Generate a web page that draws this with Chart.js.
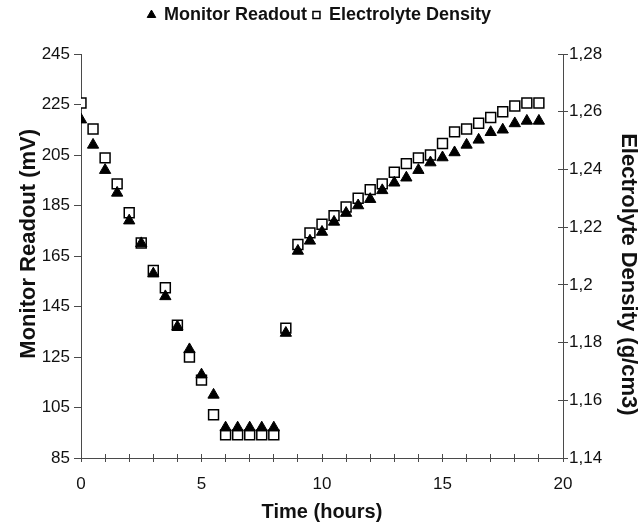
<!DOCTYPE html>
<html>
<head>
<meta charset="utf-8">
<script src="https://cdn.jsdelivr.net/npm/chart.js@4/dist/chart.umd.min.js"></script>
<style>
  html, body { margin: 0; padding: 0; background: #ffffff; }
  #c { display: block; }
</style>
</head>
<body>
<canvas id="c" width="639" height="526"></canvas>
<script>
// ---- Data ----
const hours = [0, 0.5, 1, 1.5, 2, 2.5, 3, 3.5, 4, 4.5, 5, 5.5, 6, 6.5, 7, 7.5, 8, 8.5,
               9, 9.5, 10, 10.5, 11, 11.5, 12, 12.5, 13, 13.5, 14, 14.5, 15, 15.5, 16, 16.5, 17, 17.5, 18, 18.5, 19];
const monitorReadout = [219, 209, 199, 190, 179, 170, 158, 149, 137, 128, 118, 110, 97, 97, 97, 97, 97, 134.5,
                        167, 171, 174.5, 178.5, 182, 185, 187.5, 191, 194, 196, 199, 202, 204, 206, 209, 211, 214, 215, 217.5, 218.5, 218.5];
const electrolyteDensity = [1.263, 1.254, 1.244, 1.235, 1.225, 1.2145, 1.205, 1.199, 1.186, 1.175, 1.167, 1.155, 1.148, 1.148, 1.148, 1.148, 1.148, 1.185,
                            1.214, 1.218, 1.221, 1.224, 1.227, 1.230, 1.233, 1.235, 1.239, 1.242, 1.244, 1.245, 1.249, 1.253, 1.254, 1.256, 1.258, 1.260, 1.262, 1.263, 1.263];

const xTickValues = [0, 1, 2, 3, 4, 5, 6, 7, 8, 9, 10, 11, 12, 13, 14, 15, 16, 17, 18, 19, 20];
const xTickLabels = [0, 5, 10, 15, 20];
const leftTicks = [85, 105, 125, 145, 165, 185, 205, 225, 245];
const rightTicks = [1.14, 1.16, 1.18, 1.20, 1.22, 1.24, 1.26, 1.28];

const seriesNames = ['Monitor Readout', 'Electrolyte Density'];
const axisTitles = { x: 'Time (hours)', y: '    Monitor Readout (mV)', y1: '      Electrolyte Density (g/cm3)' };

// ---- Style ----
const FONT = "'Liberation Sans', Arial, Helvetica, sans-serif";
const AXIS = '#4a4a4a';
const TEXT = '#111111';
const PLOT_TOP = 54;

// inner halves of the crossing tick marks (x axis and right axis)
const innerTicks = {
  id: 'innerTicks',
  beforeDatasetsDraw(chart) {
    const ctx = chart.ctx;
    const xs = chart.scales.x, ys = chart.scales.y1;
    const al = v => Math.round(v + 0.5) - 0.5;
    ctx.save();
    ctx.strokeStyle = AXIS;
    ctx.lineWidth = 1;
    ctx.beginPath();
    xs.ticks.forEach(t => {
      const px = al(xs.getPixelForValue(t.value));
      ctx.moveTo(px, xs.top);
      ctx.lineTo(px, xs.top - 4);
    });
    ys.ticks.forEach(t => {
      const py = al(ys.getPixelForValue(t.value));
      ctx.moveTo(ys.left, py);
      ctx.lineTo(ys.left - 5, py);
    });
    ctx.stroke();
    ctx.restore();
  }
};

// reserve a fixed band for the legend so the plot starts at PLOT_TOP
const legendBand = {
  id: 'legendBand',
  afterInit(chart) {
    const lg = chart.legend;
    if (!lg || lg._bandPatched) return;
    const orig = lg.fit.bind(lg);
    lg.fit = function () { orig(); this.height = PLOT_TOP; };
    lg._bandPatched = true;
  }
};

new Chart(document.getElementById('c'), {
  type: 'scatter',
  data: {
    datasets: [
      {
        label: seriesNames[0],
        data: hours.map((h, i) => ({ x: h, y: monitorReadout[i] })),
        yAxisID: 'y',
        pointStyle: 'triangle',
        pointRadius: 6.5,
        backgroundColor: '#000000',
        borderColor: '#000000',
        borderWidth: 1
      },
      {
        label: seriesNames[1],
        data: hours.map((h, i) => ({ x: h, y: electrolyteDensity[i] })),
        yAxisID: 'y1',
        pointStyle: 'rect',
        pointRadius: 7,
        backgroundColor: '#ffffff',
        borderColor: '#000000',
        borderWidth: 1.5
      }
    ]
  },
  options: {
    responsive: false,
    animation: false,
    devicePixelRatio: 1,
    events: [],
    layout: { padding: { top: 0, left: 0, right: 0, bottom: 0 } },
    plugins: {
      tooltip: { enabled: false },
      legend: {
        display: true,
        position: 'top',
        labels: {
          usePointStyle: true,
          boxWidth: 7,
          boxHeight: 7,
          padding: 6,
          color: TEXT,
          font: { family: FONT, size: 18, weight: 'bold' }
        }
      }
    },
    scales: {
      x: {
        type: 'linear',
        position: 'bottom',
        min: 0,
        max: 20,
        afterBuildTicks: s => { s.ticks = xTickValues.map(v => ({ value: v })); },
        ticks: {
          autoSkip: false,
          maxRotation: 0,
          padding: 12,
          color: TEXT,
          font: { family: FONT, size: 17 },
          callback: v => (xTickLabels.includes(v) ? String(v) : '')
        },
        grid: { display: true, drawOnChartArea: false, drawTicks: true, tickLength: 4, color: AXIS },
        border: { display: true, color: AXIS, width: 1 },
        title: {
          display: true, text: axisTitles.x, color: TEXT,
          font: { family: FONT, size: 20, weight: 'bold', lineHeight: 1.1 },
          padding: { top: 0, bottom: 3 }
        },
        afterFit: s => { s.height = 68; }
      },
      y: {
        type: 'linear',
        position: 'left',
        min: 85,
        max: 245,
        afterBuildTicks: s => { s.ticks = leftTicks.map(v => ({ value: v })); },
        ticks: { padding: 4, color: TEXT, font: { family: FONT, size: 17 } },
        grid: { display: true, drawOnChartArea: false, tickLength: 7, color: AXIS },
        border: { display: true, color: AXIS, width: 1 },
        title: {
          display: true, text: axisTitles.y, color: TEXT,
          font: { family: FONT, size: 22, weight: 'bold', lineHeight: 1.0 },
          padding: { top: 18, bottom: 0 }
        },
        afterFit: s => { s.width = 81; }
      },
      y1: {
        type: 'linear',
        position: 'right',
        min: 1.14,
        max: 1.28,
        afterBuildTicks: s => { s.ticks = rightTicks.map(v => ({ value: v })); },
        ticks: {
          padding: 1, color: TEXT, font: { family: FONT, size: 17 },
          callback: v => String(Math.round(v * 100) / 100).replace('.', ',')
        },
        grid: { display: true, drawOnChartArea: false, tickLength: 5, color: AXIS },
        border: { display: true, color: AXIS, width: 1 },
        title: {
          display: true, text: axisTitles.y1, color: TEXT,
          font: { family: FONT, size: 22, weight: 'bold', lineHeight: 1.0 },
          padding: { top: 0, bottom: 0 }
        },
        afterFit: s => { s.width = 76; }
      }
    }
  },
  plugins: [innerTicks, legendBand]
});
</script>
</body>
</html>
